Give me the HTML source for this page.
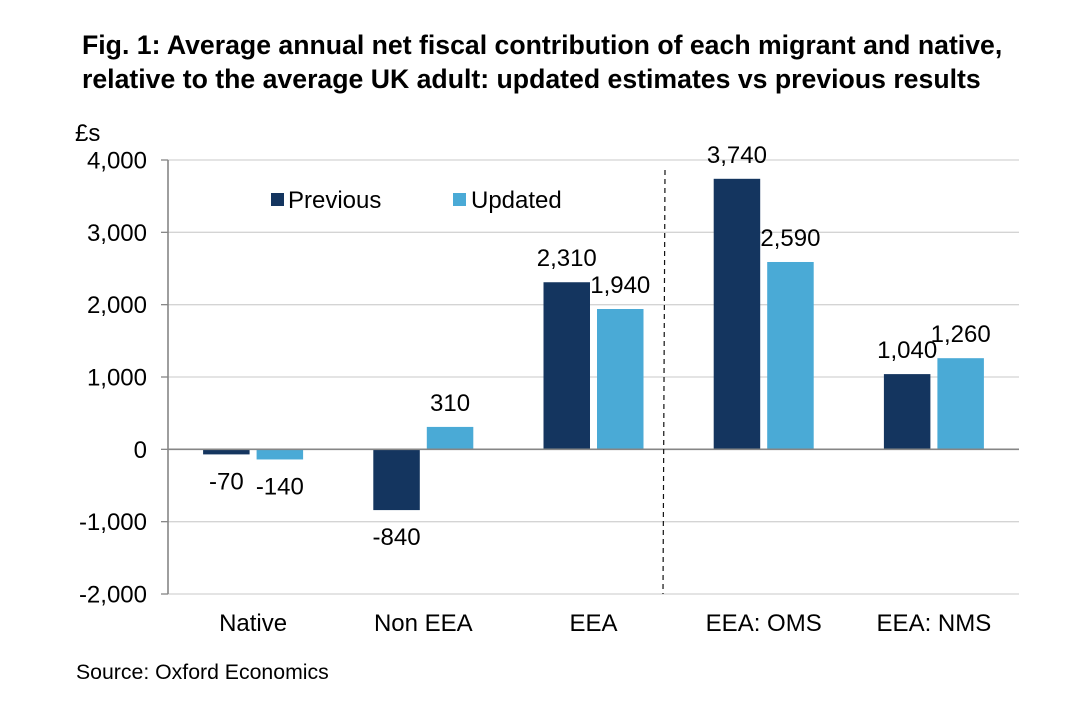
<!DOCTYPE html>
<html lang="en">
<head>
<meta charset="utf-8">
<title>Average annual net fiscal contribution</title>
<style>
html,body{margin:0;padding:0;background:#fff;}
body{width:1072px;height:706px;overflow:hidden;}
svg{display:block;font-family:"Liberation Sans",Arial,sans-serif;fill:#000;}
.tick,.val,.cat,.leg{font-size:24px;}
.title{font-size:26.65px;font-weight:bold;}
.src{font-size:21.25px;}
</style>
</head>
<body>
<svg id="chart" width="1072" height="706" viewBox="0 0 1072 706">
<text class="title" x="82" y="54">Fig. 1: Average annual net fiscal contribution of each migrant and native,</text>
<text class="title" x="82" y="88">relative to the average UK adult: updated estimates vs previous results</text>
<text class="leg" x="75" y="141">£s</text>
<g id="grid"></g>
<g id="bars"></g>
<g id="axes"></g>
<g id="labels"></g>
<line x1="665" y1="170" x2="663" y2="594" stroke="#111" stroke-width="1.2" stroke-dasharray="5 4"/>
<g>
<rect x="271" y="193" width="13" height="13" fill="#14355f"/>
<text class="leg" x="288" y="208">Previous</text>
<rect x="453" y="193" width="13" height="13" fill="#4aaad6"/>
<text class="leg" x="471" y="208">Updated</text>
</g>
<text class="src" x="76" y="679">Source: Oxford Economics</text>
</svg>
<script>
const categories = ["Native", "Non EEA", "EEA", "EEA: OMS", "EEA: NMS"];
const previousValues = [-70, -840, 2310, 3740, 1040];
const updatedValues = [-140, 310, 1940, 2590, 1260];
const yTicks = [4000, 3000, 2000, 1000, 0, -1000, -2000];

const NS = "http://www.w3.org/2000/svg";
const plotLeft = 168, plotRight = 1019, plotTop = 160, plotBottom = 594;
const yMax = 4000, yMin = -2000;
const barWidth = 46.5, barGap = 7;
function yScale(v) { return plotTop + (yMax - v) / (yMax - yMin) * (plotBottom - plotTop); }
function xCenter(i) { return plotLeft + (i + 0.5) * (plotRight - plotLeft) / categories.length; }
function fmt(v) { return (v < 0 ? "-" : "") + Math.abs(v).toLocaleString("en-US"); }
function make(tag, parent, attrs, text) {
  const el = document.createElementNS(NS, tag);
  for (const k in attrs) el.setAttribute(k, attrs[k]);
  if (text !== undefined) el.textContent = text;
  parent.appendChild(el);
  return el;
}
const gridG = document.getElementById("grid");
const barsG = document.getElementById("bars");
const axesG = document.getElementById("axes");
const labelsG = document.getElementById("labels");

yTicks.forEach(function (t) {
  const y = yScale(t);
  if (t !== 0) {
    const g = make("line", gridG, {x1: plotLeft, x2: plotRight, y1: y, y2: y, stroke: "#d4d4d4", "stroke-width": 1.3});
    
    
  }
  const m = make("line", axesG, {x1: plotLeft - 7, x2: plotLeft, y1: y, y2: y, stroke: "#868686", "stroke-width": 1.3});
  
  
  const l = make("text", axesG, {class: "tick", x: 147, y: y + 8.5, "text-anchor": "end"}, fmt(t));
  
  
});

const yAxisLine = make("line", axesG, {x1: plotLeft, x2: plotLeft, y1: plotTop, y2: plotBottom, stroke: "#868686", "stroke-width": 1.6});


const zeroLine = make("line", axesG, {x1: plotLeft, x2: plotRight, y1: yScale(0), y2: yScale(0), stroke: "#868686", "stroke-width": 1.6});



function drawSeries(values, side, color, seriesName) {
  values.forEach(function (v, i) {
    const cx = xCenter(i) + side * (barWidth + barGap) / 2;
    const y0 = yScale(0), yv = yScale(v);
    const bar = make("rect", barsG, {x: cx - barWidth / 2, y: Math.min(y0, yv), width: barWidth, height: Math.abs(yv - y0), fill: color});
    
    
    const ly = v >= 0 ? yv - 16 : yv + 35;
    const lab = make("text", labelsG, {class: "val", x: cx, y: ly, "text-anchor": "middle"}, fmt(v));
    
    
  });
}
drawSeries(previousValues, -1, "#14355f", "previous");
drawSeries(updatedValues, 1, "#4aaad6", "updated");

categories.forEach(function (c, i) {
  const t = make("text", axesG, {class: "cat", x: xCenter(i), y: 631, "text-anchor": "middle"}, c);
  
  
});
</script>
</body>
</html>
